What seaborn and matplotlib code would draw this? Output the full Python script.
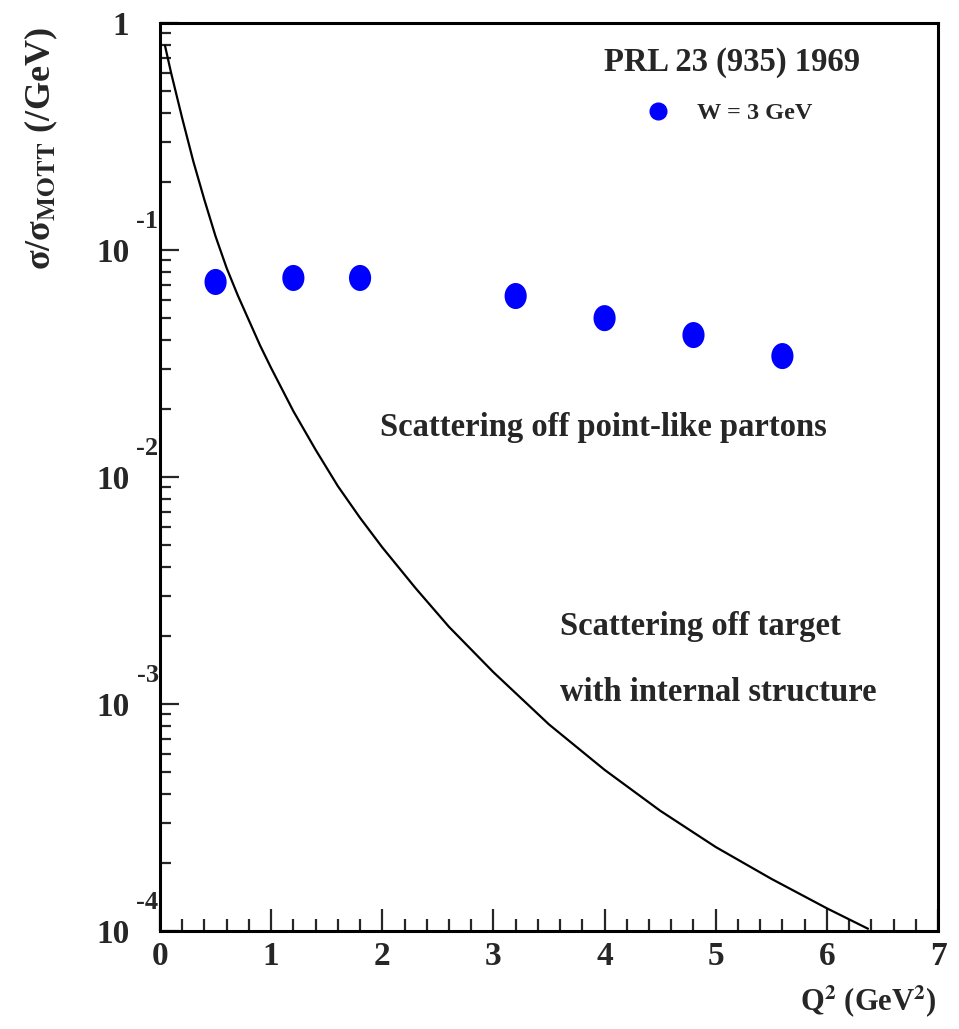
import numpy as np
import pandas as pd
import matplotlib
matplotlib.use("Agg")
import matplotlib.pyplot as plt
import seaborn as sns
from matplotlib.path import Path
from matplotlib.lines import Line2D
from matplotlib.ticker import FixedLocator, FixedFormatter, MultipleLocator

# ---- data ----
q2_points = [0.5, 1.2, 1.8, 3.2, 4.0, 4.8, 5.6]
ratio_points = [0.0723, 0.0753, 0.0753, 0.0627, 0.0501, 0.0422, 0.0341]

q2_curve = [0.045, 0.1, 0.2, 0.3, 0.4, 0.5, 0.6, 0.7, 0.8, 0.9, 1.0, 1.2, 1.4,
            1.6, 1.8, 2.0, 2.3, 2.6, 3.0, 3.5, 4.0, 4.5, 5.0, 5.5, 6.0, 6.37]
log_ratio_curve = [-0.10, -0.22, -0.42, -0.61, -0.78, -0.94, -1.08, -1.20, -1.31,
                   -1.42, -1.52, -1.71, -1.88, -2.04, -2.18, -2.31, -2.49, -2.66,
                   -2.86, -3.09, -3.29, -3.47, -3.63, -3.77, -3.90, -3.99]

legend_title = "PRL 23 (935) 1969"
series_label = "W = 3 GeV"
annot1 = "Scattering off point-like partons"
annot2 = "Scattering off target"
annot3 = "with internal structure"
ytick_vals = [1e-4, 1e-3, 1e-2, 1e-1, 1]
ytick_labels = ["10", "10", "10", "10", "1"]
ytick_exps = ["-4", "-3", "-2", "-1", None]
xtick_vals = [0, 1, 2, 3, 4, 5, 6, 7]

sns.set_style("white")
plt.rcParams["font.family"] = ["Liberation Serif", "DejaVu Serif"]
plt.rcParams["font.weight"] = "bold"
plt.rcParams["mathtext.fontset"] = "stix"

W, H = 959, 1029
fig = plt.figure(figsize=(W / 100, H / 100), dpi=100)
ax = fig.add_axes([160 / W, 1 - 931 / H, (938 - 160) / W, (931 - 23) / H])

df_pts = pd.DataFrame({"q2": q2_points, "ratio": ratio_points})
df_curve = pd.DataFrame({"q2": q2_curve,
                         "ratio": [10 ** v for v in log_ratio_curve]})

sns.lineplot(data=df_curve, x="q2", y="ratio", ax=ax, color="black", lw=1.6,
             sort=False, estimator=None)

t = np.linspace(0, 2 * np.pi, 60)
ell = Path(np.column_stack([0.85 * np.cos(t), np.sin(t)]), closed=True)
sns.scatterplot(data=df_pts, x="q2", y="ratio", ax=ax, color="blue",
                marker=ell, s=26 ** 2 * 0.52, edgecolor="none", legend=False)

ax.set_yscale("log")
ax.set_xlim(0, 7)
ax.set_ylim(1e-4, 1)

for s in ax.spines.values():
    s.set_linewidth(2.2)
    s.set_color("black")

# ticks
ax.xaxis.set_major_locator(FixedLocator(xtick_vals))
ax.xaxis.set_minor_locator(MultipleLocator(0.2))
ax.tick_params(axis="x", which="major", direction="in", length=16, width=1.6,
               pad=7, labelsize=24, top=False, bottom=True)
ax.tick_params(axis="x", which="minor", direction="in", length=9, width=1.6,
               top=False, bottom=True)
ax.yaxis.set_major_locator(FixedLocator(ytick_vals))
ax.yaxis.set_major_formatter(FixedFormatter(ytick_labels))
ax.tick_params(axis="y", which="major", direction="in", length=14, width=1.6,
               pad=22, labelsize=24, left=True, right=False)
ax.tick_params(axis="y", which="minor", direction="in", length=8, width=1.6,
               left=True, right=False)
for lab in ax.get_xticklabels() + ax.get_yticklabels():
    lab.set_fontweight("bold")

for v, e in zip(ytick_vals, ytick_exps):
    if e is None:
        continue
    ax.annotate(e, xy=(0, v), xycoords=("axes fraction", "data"),
                xytext=(-1, 20.5), textcoords="offset points", ha="right", va="center",
                fontsize=19, fontweight="bold")

ax.set_xlabel(r"Q$^{2}$ (GeV$^{2}$)", fontsize=22, fontweight="bold", loc="right")
ax.xaxis.set_label_coords(0.998, -0.058)
ax.set_ylabel(r"σ/σ$_{\mathbf{MOTT}}$ (/GeV)", fontsize=26,
              fontweight="bold", loc="top")
ax.yaxis.set_label_coords(-0.128, 0.995)

ax.text(1.98, 10**-1.78, annot1, fontsize=23.5, fontweight="bold", va="center", ha="left")
ax.text(3.6, 10**-2.66, annot2, fontsize=23.5, fontweight="bold", va="center", ha="left")
ax.text(3.6, 10**-2.95, annot3, fontsize=23.5, fontweight="bold", va="center", ha="left")

fig.text(732 / W, 1 - 62 / H, legend_title, fontsize=23.5, fontweight="bold",
         ha="center", va="center")
h = Line2D([], [], marker="o", color="blue", ls="none", markersize=12)
fig.legend([h], [series_label], loc="center left",
           bbox_to_anchor=(648 / W, 1 - 113 / H), frameon=False,
           prop={"size": 17.5, "weight": "bold"}, handlelength=0.8,
           handletextpad=1.2, borderpad=0, borderaxespad=0)

fig.savefig("out.png", dpi=100)
